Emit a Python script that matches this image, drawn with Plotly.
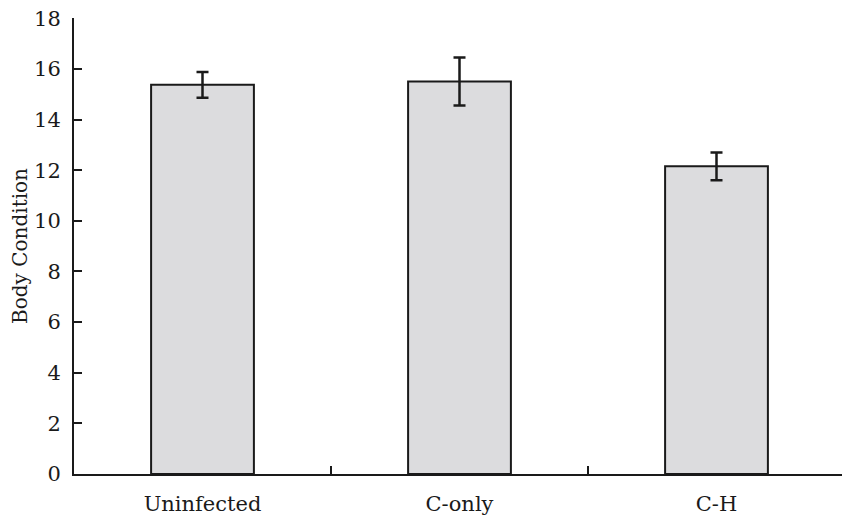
import plotly.graph_objects as go

groups = ["Uninfected", "C-only", "C-H"]
body_condition = [15.37, 15.50, 12.15]
errors = [0.51, 0.95, 0.55]

fig = go.Figure()

fig.add_trace(go.Bar(
    x=groups,
    y=body_condition,
    error_y=dict(type="data", array=errors, color="#1a1a1a", thickness=2.5, width=6),
    marker=dict(color="#dcdcde", line=dict(color="#1a1a1a", width=2)),
    width=0.4,
))

# page draws the figure ~8px in from the corner, margins allow for it
fig.update_layout(
    width=850,
    height=519,
    plot_bgcolor="white",
    paper_bgcolor="white",
    margin=dict(l=66, r=13, t=10, b=53),
    font=dict(family="DejaVu Serif", size=21, color="#1a1a1a"),
    showlegend=False,
)

fig.update_xaxes(
    showline=True, linecolor="#1a1a1a", linewidth=2, automargin=False,
    ticks="inside", tickson="boundaries", ticklen=8, tickwidth=2, tickcolor="#1a1a1a",
    ticklabelstandoff=10,
)
fig.update_yaxes(
    range=[0, 18.01], tickvals=list(range(0, 19, 2)), automargin=False,
    showline=True, linecolor="#1a1a1a", linewidth=2, showgrid=False, zeroline=False,
    ticks="inside", ticklen=8, tickwidth=2, tickcolor="#1a1a1a",
    ticklabelstandoff=7, ticklabeloverflow="allow",
    title=dict(text="Body Condition", font=dict(size=20), standoff=1),
)

fig.write_html("out.html")
